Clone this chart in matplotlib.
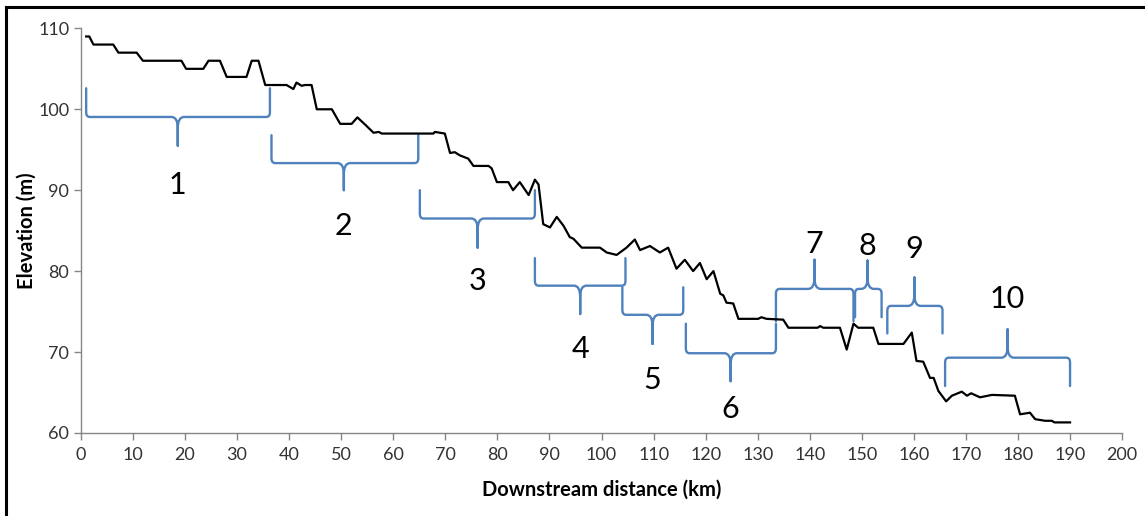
import matplotlib
matplotlib.use("Agg")
import matplotlib.pyplot as plt
from matplotlib.path import Path
from matplotlib.patches import PathPatch
from matplotlib.lines import Line2D

plt.rcParams['font.family'] = ['Lato', 'DejaVu Sans']

# elevation profile
dist_km = [1.0, 1.6, 2.4, 6.2, 7.2, 10.7, 11.9, 19.3, 20.2, 23.5, 24.5, 26.7, 28.0, 31.8,
           32.8, 34.1, 35.4, 36.6, 39.5, 40.8, 41.4, 42.4, 43.0, 44.3, 45.3, 48.2, 49.8,
           52.0, 53.1, 54.6, 56.2, 57.2, 57.8, 67.7, 68.0, 69.9, 70.9, 71.8, 72.8, 74.4,
           75.4, 78.3, 78.9, 79.9, 82.1, 83.0, 84.3, 86.0, 87.2, 87.9, 88.8, 90.1, 91.4,
           92.7, 93.9, 94.6, 96.2, 99.7, 101.0, 102.9, 104.8, 106.4, 107.4, 109.3, 111.2,
           112.8, 114.4, 116.0, 117.6, 118.9, 120.2, 121.5, 122.8, 123.4, 124.0, 125.3,
           126.3, 130.1, 130.7, 131.7, 134.9, 135.9, 141.5, 142.0, 142.6, 145.8, 147.1,
           148.4, 149.3, 152.2, 153.2, 158.0, 159.6, 160.5, 161.8, 163.1, 163.8, 164.7,
           166.2, 167.3, 169.2, 170.2, 171.0, 172.7, 175.0, 179.4, 180.4, 182.3, 183.3,
           185.2, 186.5, 187.0, 190.0]
elev_m = [109.0, 109.0, 108.0, 108.0, 107.0, 107.0, 106.0, 106.0, 105.0, 105.0, 106.0,
          106.0, 104.0, 104.0, 106.0, 106.0, 103.0, 103.0, 103.0, 102.5, 103.3, 102.9,
          103.0, 103.0, 100.0, 100.0, 98.2, 98.2, 99.0, 98.1, 97.1, 97.2, 97.0, 97.0,
          97.2, 97.0, 94.6, 94.7, 94.3, 93.9, 93.0, 93.0, 92.7, 91.0, 91.0, 90.0, 91.0,
          89.4, 91.3, 90.7, 85.8, 85.4, 86.7, 85.6, 84.2, 84.0, 82.9, 82.9, 82.3, 82.0,
          82.9, 83.9, 82.6, 83.1, 82.3, 82.9, 80.3, 81.4, 80.0, 81.0, 79.0, 80.0, 77.2,
          77.0, 76.1, 76.0, 74.1, 74.1, 74.3, 74.1, 74.0, 73.0, 73.0, 73.2, 73.0, 73.0,
          70.3, 73.5, 73.0, 73.0, 71.0, 71.0, 72.4, 68.9, 68.8, 66.8, 66.8, 65.2, 63.9,
          64.6, 65.1, 64.6, 64.9, 64.4, 64.7, 64.6, 62.3, 62.5, 61.7, 61.5, 61.5, 61.3,
          61.3]

# segment braces
seg_labels = ['1', '2', '3', '4', '5', '6', '7', '8', '9', '10']
seg_start = [1.0, 36.6, 65.1, 87.2, 104.0, 116.2, 133.5, 148.7, 154.9, 166.0]
seg_end = [36.3, 64.8, 87.2, 104.6, 115.7, 133.5, 148.4, 153.8, 165.5, 190.0]
seg_mid = [18.6, 50.5, 76.2, 95.9, 109.8, 124.8, 140.9, 151.1, 160.1, 178.0]
arm_y = [102.6, 96.8, 90.0, 81.6, 78.0, 73.5, 73.8, 74.3, 72.3, 65.8]
line_y = [99.05, 93.35, 86.5, 78.2, 74.6, 69.85, 77.8, 77.8, 75.7, 69.3]
tip_y = [95.5, 90.0, 82.9, 74.7, 71.0, 66.4, 81.4, 81.3, 79.2, 72.8]
label_y = [90.6, 85.6, 78.8, 70.4, 66.5, 63.0, 83.4, 83.1, 82.7, 76.5]

xticks = list(range(0, 201, 10))
yticks = [60, 70, 80, 90, 100, 110]

brace_color = '#4F81BD'
gray = '#868686'


def brace_path(x0, x1, xm, ya, yl, yt, rx=0.7, ry=0.6, rx2=1.2, ry2=1.4):
    sa = 1 if ya > yl else -1
    st = 1 if yt > yl else -1
    verts = [(x0, ya), (x0, yl + sa * ry), (x0, yl), (x0 + rx, yl),
             (xm - rx2, yl), (xm, yl), (xm, yl + st * ry2), (xm, yt),
             (xm, yl + st * ry2), (xm, yl), (xm + rx2, yl),
             (x1 - rx, yl), (x1, yl), (x1, yl + sa * ry), (x1, ya)]
    codes = [Path.MOVETO, Path.LINETO, Path.CURVE3, Path.CURVE3,
             Path.LINETO, Path.CURVE3, Path.CURVE3, Path.LINETO,
             Path.LINETO, Path.CURVE3, Path.CURVE3,
             Path.LINETO, Path.CURVE3, Path.CURVE3, Path.LINETO]
    return Path(verts, codes)


fig = plt.figure(figsize=(11.45, 5.16), dpi=100)
ax = fig.add_axes([0.0707, 0.161, 0.9093, 0.784])

ax.plot(dist_km, elev_m, color='black', lw=1.6, solid_joinstyle='round')

for i in range(len(seg_labels)):
    p = brace_path(seg_start[i], seg_end[i], seg_mid[i], arm_y[i], line_y[i], tip_y[i])
    ax.add_patch(PathPatch(p, facecolor='none', edgecolor=brace_color, lw=1.7,
                           capstyle='round', joinstyle='round'))
    ax.text(seg_mid[i], label_y[i], seg_labels[i], fontsize=22, ha='center',
            va='center', color='black')

ax.set_xlim(0, 200)
ax.set_ylim(60, 110)
ax.set_xticks(xticks)
ax.set_yticks(yticks)
ax.tick_params(axis='both', colors=gray, labelcolor='#333333', labelsize=13,
               direction='out', length=5, width=1)
ax.tick_params(axis='x', pad=5)
for side in ['top', 'right']:
    ax.spines[side].set_visible(False)
for side in ['left', 'bottom']:
    ax.spines[side].set_color(gray)
    ax.spines[side].set_linewidth(1)

ax.set_xlabel('Downstream distance (km)', fontsize=14.5, fontweight='bold', labelpad=12)
ax.set_ylabel('Elevation (m)', fontsize=14.5, fontweight='bold')
ax.yaxis.set_label_coords(-0.043, 0.5)

# outer frame (left and top edges)
fig.add_artist(Line2D([0.0055, 0.0055], [0, 0.986], color='black', lw=2.2,
                      transform=fig.transFigure))
fig.add_artist(Line2D([0.0055, 1.0], [0.986, 0.986], color='black', lw=2.2,
                      transform=fig.transFigure))

fig.savefig('out.png', dpi=100)
